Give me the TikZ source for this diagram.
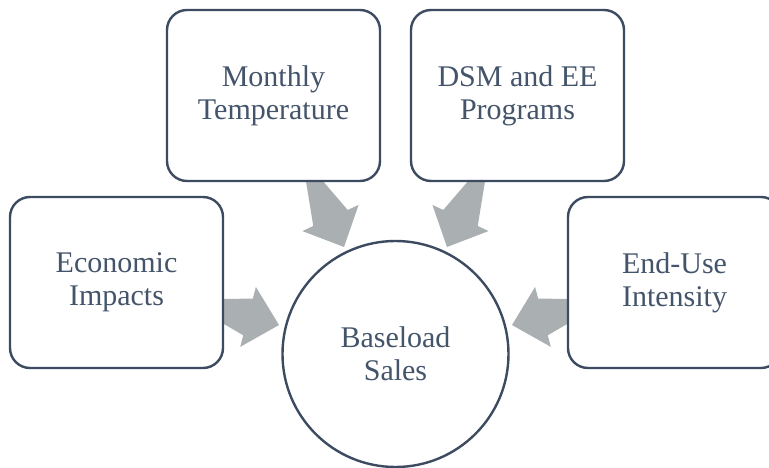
\documentclass[tikz,border=0pt]{standalone}
\usepackage{fontspec}
\setmainfont{Liberation Serif}
\usetikzlibrary{calc}
\definecolor{slate}{HTML}{44546A}
\definecolor{edge}{HTML}{3D4B61}
\definecolor{arrowgray}{HTML}{AAAFB2}
\tikzset{
  factor/.style={draw=edge, line width=2.4pt, fill=white, rounded corners=20pt,
    minimum width=213pt, minimum height=171pt, align=center, text=slate,
    font=\fontsize{30}{33}\selectfont, inner sep=0pt},
  hub/.style={draw=edge, line width=2.4pt, fill=white, circle, minimum size=226pt,
    align=center, text=slate, font=\fontsize{30}{33}\selectfont, inner sep=0pt},
  fatarrow/.style={fill=arrowgray}
}
% block arrow from the centre of a node to a tip coordinate
\newcommand\blockarrow[2]{%
  \fill[fatarrow]
    ($(#1.center)!19pt!90:(#2)$) --
    ($($(#2)!32pt!(#1.center)$)!19pt!-90:(#2)$) --
    ($($(#2)!32pt!(#1.center)$)!31pt!-90:(#2)$) --
    (#2) --
    ($($(#2)!32pt!(#1.center)$)!31pt!90:(#2)$) --
    ($($(#2)!32pt!(#1.center)$)!19pt!90:(#2)$) --
    ($(#1.center)!19pt!-90:(#2)$) -- cycle;}
\begin{document}
\begin{tikzpicture}[x=1pt,y=-1pt]
  \useasboundingbox (0,0) rectangle (769,468);
  % node positions
  \coordinate (pm) at (273.5,95.5);
  \coordinate (pd) at (517.5,95.5);
  \coordinate (pe) at (116.5,282.5);
  \coordinate (pu) at (674.5,282.5);
  % arrow tips
  \coordinate (tm) at (344,247);
  \coordinate (td) at (447,247);
  \coordinate (te) at (279,325);
  \coordinate (tu) at (512,325);
  % invisible anchors for the arrow tails
  \path (pm) node (am) {} (pd) node (ad) {} (pe) node (ae) {} (pu) node (au) {};
  \blockarrow{am}{tm}
  \blockarrow{ad}{td}
  \blockarrow{ae}{te}
  \blockarrow{au}{tu}
  % boxes and hub
  \node[factor] (mt) at (pm) {Monthly\\Temperature};
  \node[factor] (dsm) at (pd) {DSM and EE\\Programs};
  \node[factor] (eco) at (pe) {Economic\\Impacts};
  \node[factor] (eui) at (pu) {End-Use\\Intensity};
  \node[hub] (bs) at (395.5,354) {Baseload\\Sales};
\end{tikzpicture}
\end{document}
